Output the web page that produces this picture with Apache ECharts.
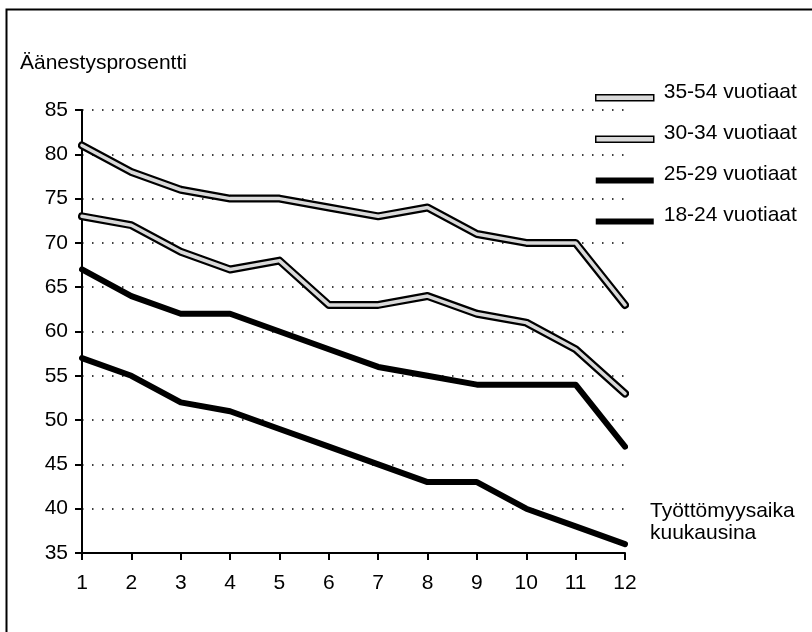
<!DOCTYPE html>
<html>
<head>
<meta charset="utf-8">
<script src="https://cdn.jsdelivr.net/npm/echarts@6/dist/echarts.min.js"></script>
<style>
html,body{margin:0;padding:0;background:#fff;}
#chart{width:812px;height:632px;}
</style>
</head>
<body>
<div id="chart"></div>
<script>
var months = [1,2,3,4,5,6,7,8,9,10,11,12];
var yTicks = [35,40,45,50,55,60,65,70,75,80,85];
var seriesNames = ['35-54 vuotiaat','30-34 vuotiaat','25-29 vuotiaat','18-24 vuotiaat'];
var age3554 = [81,78,76,75,75,74,73,74,71,70,70,63];
var age3034 = [73,72,69,67,68,63,63,64,62,61,58,53];
var age2529 = [67,64,62,62,60,58,56,55,54,54,54,47];
var age1824 = [57,55,52,51,49,47,45,43,43,40,38,36];
var yTitle = 'Äänestysprosentti';
var xTitle = 'Työttömyysaika\nkuukausina';

var FONT = "'Liberation Sans', Arial, Helvetica, sans-serif";
var FS = 21;

function pairs(vals){ return months.map(function(m,i){ return [m, vals[i]]; }); }

function outline(name, vals){
  return {name:name, type:'line', data:pairs(vals), showSymbol:false, symbol:'none', z:2,
    lineStyle:{color:'#000', width:8, join:'round', cap:'round'}, itemStyle:{color:'#000'}};
}
function inner(name, vals){
  return {name:name, type:'line', data:pairs(vals), showSymbol:false, symbol:'none', z:3,
    lineStyle:{color:'#d9d9d9', width:3.5, join:'round', cap:'round'}, itemStyle:{color:'#d9d9d9'}};
}
function solid(name, vals){
  return {name:name, type:'line', data:pairs(vals), showSymbol:false, symbol:'none', z:2,
    lineStyle:{color:'#000', width:6, join:'round', cap:'round'}, itemStyle:{color:'#000'}};
}

var iconPath = 'path://M0,0 M58,20 M0,13 L58,13 L58,19 L0,19 Z';

var chart = echarts.init(document.getElementById('chart'), null, {renderer:'canvas'});
chart.setOption({
  animation:false,
  backgroundColor:'#fff',
  textStyle:{fontFamily:FONT, color:'#000'},
  grid:{left:82, right:187, top:110, bottom:79, containLabel:false},
  xAxis:{type:'value', min:1, max:12, interval:1,
    axisLine:{show:true, onZero:false, lineStyle:{color:'#000', width:2}},
    axisTick:{show:true, length:7, lineStyle:{color:'#000', width:2}},
    axisLabel:{fontSize:FS, color:'#000', margin:20, fontFamily:FONT},
    splitLine:{show:false}},
  yAxis:{type:'value', min:35, max:85, interval:5,
    axisLine:{show:true, onZero:false, lineStyle:{color:'#000', width:2}},
    axisTick:{show:true, length:7, lineStyle:{color:'#000', width:2}},
    axisLabel:{fontSize:FS, color:'#000', margin:14, fontFamily:FONT, padding:[0,0,4,0],
      formatter:function(v){ return yTicks.indexOf(v) >= 0 ? String(v) : ''; }},
    splitLine:{show:true, lineStyle:{color:'#000', width:1.5, type:[1.5,8.5]}}},
  legend:{orient:'vertical', left:590, top:76, itemWidth:58, itemHeight:20, itemGap:20,
    selectedMode:false,
    textStyle:{fontSize:FS, color:'#000', fontFamily:FONT, lineHeight:20, padding:[0,0,0,5]},
    data:[
      {name:seriesNames[0], icon:iconPath, itemStyle:{color:'#d9d9d9', borderColor:'#000', borderWidth:1.5}},
      {name:seriesNames[1], icon:iconPath, itemStyle:{color:'#d9d9d9', borderColor:'#000', borderWidth:1.5}},
      {name:seriesNames[2], icon:iconPath, itemStyle:{color:'#000', borderWidth:0}},
      {name:seriesNames[3], icon:iconPath, itemStyle:{color:'#000', borderWidth:0}}
    ]},
  graphic:[
    {type:'rect', left:4, top:7, shape:{x:0, y:0, width:900, height:700},
      style:{fill:'none', stroke:'#000', lineWidth:2}, silent:true, z:-1},
    {type:'text', left:20, top:53, style:{text:yTitle, font:FS + 'px ' + FONT, fill:'#000'}},
    {type:'text', left:650, top:500, style:{text:xTitle, font:FS + 'px ' + FONT, fill:'#000', lineHeight:22}}
  ],
  series:[
    outline(seriesNames[0], age3554), inner(seriesNames[0], age3554),
    outline(seriesNames[1], age3034), inner(seriesNames[1], age3034),
    solid(seriesNames[2], age2529),
    solid(seriesNames[3], age1824)
  ]
});
</script>
</body>
</html>
